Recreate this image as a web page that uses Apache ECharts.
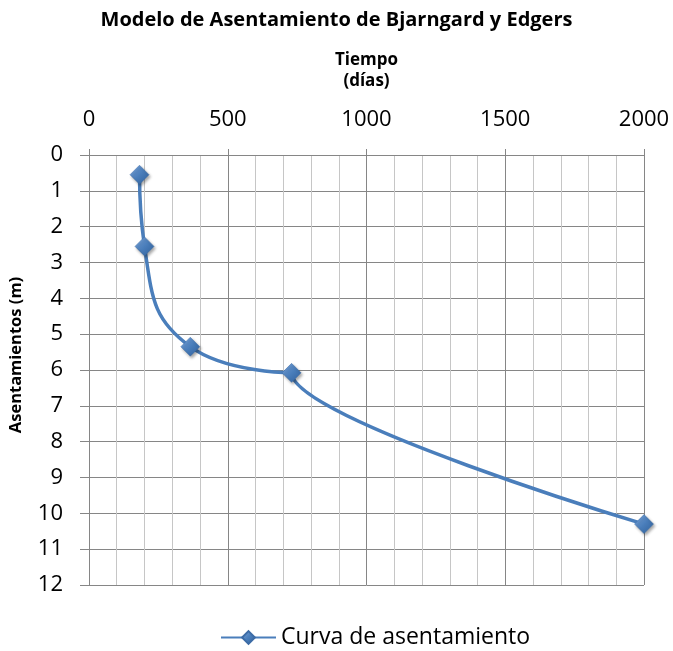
<!DOCTYPE html>
<html>
<head>
<meta charset="utf-8">
<script src="https://cdn.jsdelivr.net/npm/echarts@6/dist/echarts.min.js"></script>
<style>html,body{margin:0;padding:0;background:#fff}#c{width:673px;height:651px}</style>
</head>
<body>
<div id="c"></div>
<script>
var chartTitle = 'Modelo de Asentamiento de Bjarngard y Edgers';
var xName = 'Tiempo\n(días)';
var yName = 'Asentamientos (m)';
var seriesName = 'Curva de asentamiento';
var tiempo = [182, 200, 365, 730, 2000];
var asentamiento = [0.55, 2.55, 5.35, 6.08, 10.3];

var FONT = 'Open Sans';
var chart = echarts.init(document.getElementById('c'), null, {renderer: 'canvas'});
var data = tiempo.map(function (t, i) { return [t, asentamiento[i]]; });

var lineColor = '#4a7ebb';
var markerStyle = {
  color: new echarts.graphic.LinearGradient(0, 0, 1, 1, [
    {offset: 0, color: '#7fa9df'},
    {offset: 0.5, color: '#4a7ebb'},
    {offset: 1, color: '#2f5f9a'}
  ]),
  borderColor: '#3d6ca6',
  borderWidth: 0.5,
  shadowColor: 'rgba(0,0,0,0.35)',
  shadowBlur: 3,
  shadowOffsetX: 1.5,
  shadowOffsetY: 2
};

// the smoothed curve is drawn in two pieces (same series name, one legend entry):
// head: first four points; tail: last three points, only its final segment is visible
var dataHead = data.slice(0, 4);
var dataTail = data.slice(2).map(function (p, i, arr) {
  return i < arr.length - 1 ? {value: p, symbol: 'none'} : {value: p, itemStyle: markerStyle};
});
var splitX = tiempo[3];

chart.setOption({
  animation: false,
  backgroundColor: '#fff',
  textStyle: {fontFamily: FONT},
  title: {
    text: chartTitle,
    left: 'center',
    top: 5,
    textStyle: {fontFamily: FONT, fontWeight: 'bold', fontSize: 20, color: '#000'}
  },
  legend: {
    left: 215,
    top: 621,
    itemWidth: 55,
    itemHeight: 16,
    textStyle: {fontFamily: FONT, fontSize: 23, color: '#000'},
    data: [seriesName]
  },
  visualMap: {
    type: 'piecewise',
    show: false,
    seriesIndex: 1,
    dimension: 0,
    pieces: [
      {min: 0, max: splitX - 0.01, color: 'rgba(74,126,187,0)'},
      {min: splitX, max: 2000, color: lineColor}
    ],
    outOfRange: {color: lineColor}
  },
  grid: {left: 85, right: 29, top: 155, bottom: 66, containLabel: false},
  xAxis: {
    type: 'value',
    position: 'top',
    min: 0, max: 2000, interval: 500,
    name: xName,
    nameLocation: 'middle',
    nameGap: 63,
    nameTextStyle: {fontFamily: FONT, fontWeight: 'bold', fontSize: 17, lineHeight: 21, color: '#000'},
    axisLine: {show: true, lineStyle: {color: '#868686', width: 1}},
    axisTick: {show: true, length: 6, lineStyle: {color: '#868686'}},
    axisLabel: {fontFamily: FONT, fontSize: 22, color: '#000', margin: 24, formatter: function (v) { return String(v); }},
    splitLine: {show: true, lineStyle: {color: '#868686', width: 1}},
    minorTick: {show: false, splitNumber: 5},
    minorSplitLine: {show: true, lineStyle: {color: '#c6c6c6', width: 1}}
  },
  yAxis: {
    type: 'value',
    inverse: true,
    min: 0, max: 12, interval: 1,
    name: yName,
    nameLocation: 'middle',
    nameRotate: 90,
    nameGap: 64,
    nameTextStyle: {fontFamily: FONT, fontWeight: 'bold', fontSize: 16.5, color: '#000', padding: [0, 0, 0, 30]},
    axisLine: {show: true, lineStyle: {color: '#868686', width: 1}},
    axisTick: {show: true, length: 9, lineStyle: {color: '#868686'}},
    axisLabel: {fontFamily: FONT, fontSize: 22, color: '#000', margin: 26, formatter: function (v) { return String(v); }},
    splitLine: {show: true, lineStyle: {color: '#868686', width: 1}}
  },
  series: [{
    name: seriesName,
    type: 'line',
    data: dataHead,
    smooth: 0.5,
    symbol: 'diamond',
    symbolSize: 19,
    z: 3,
    lineStyle: {color: lineColor, width: 3.5},
    itemStyle: markerStyle
  }, {
    name: seriesName,
    type: 'line',
    data: dataTail,
    smooth: 0.3,
    smoothMonotone: 'y',
    symbol: 'diamond',
    symbolSize: 19,
    z: 2,
    lineStyle: {width: 3.5},
    itemStyle: markerStyle
  }]
});
</script>
</body>
</html>
